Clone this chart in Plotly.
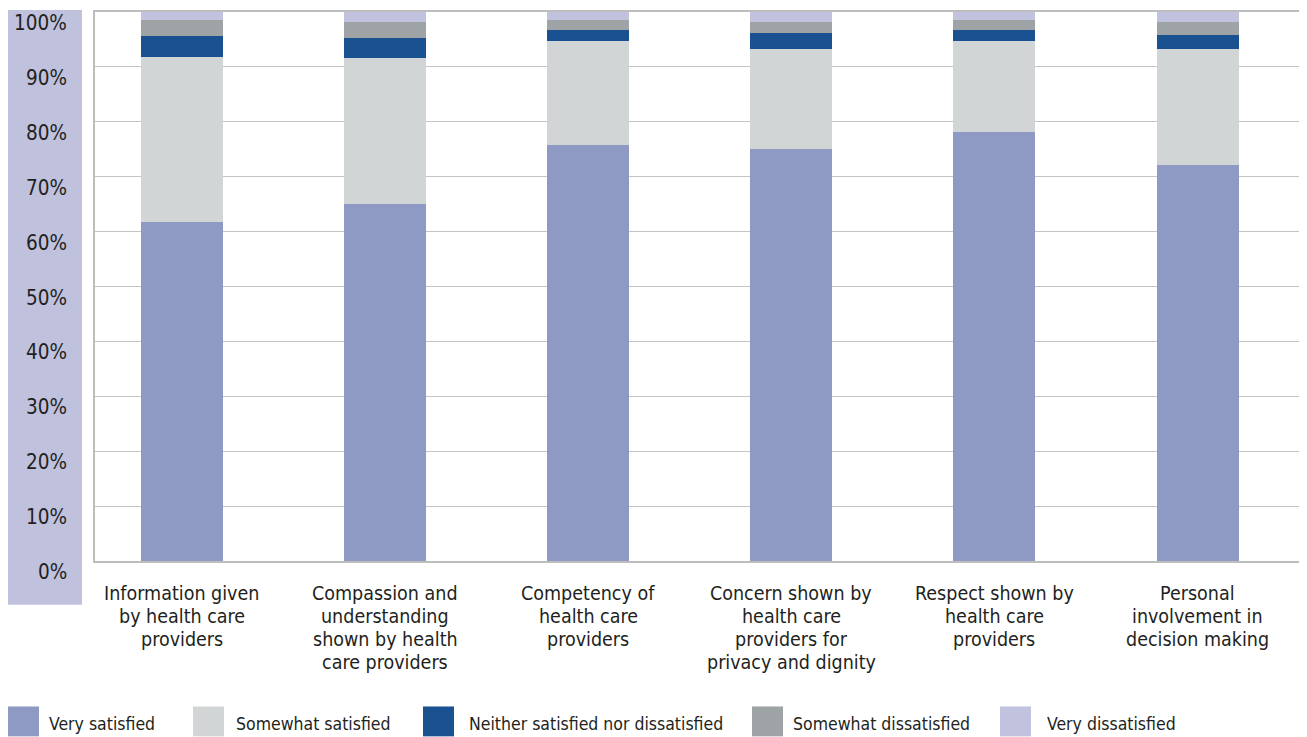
import plotly.graph_objects as go

categories = [
    "Information given<br>by health care<br>providers",
    "Compassion and<br>understanding<br>shown by health<br>care providers",
    "Competency of<br>health care<br>providers",
    "Concern shown by<br>health care<br>providers for<br>privacy and dignity",
    "Respect shown by<br>health care<br>providers",
    "Personal<br>involvement in<br>decision making",
]
series_names = ["Very satisfied", "Somewhat satisfied", "Neither satisfied nor dissatisfied",
                "Somewhat dissatisfied", "Very dissatisfied"]
very_satisfied = [61.7, 65.0, 75.7, 75.1, 78.2, 72.2]
somewhat_satisfied = [30.1, 26.7, 19.0, 18.2, 16.5, 21.1]
neither = [3.8, 3.6, 2.0, 2.9, 2.0, 2.5]
somewhat_dissatisfied = [2.9, 2.9, 1.8, 2.0, 1.8, 2.4]
very_dissatisfied = [1.5, 1.8, 1.5, 1.8, 1.5, 1.8]
series_values = [very_satisfied, somewhat_satisfied, neither, somewhat_dissatisfied, very_dissatisfied]
colors = ["#8e9ac4", "#d1d5d6", "#1a5190", "#9ea3a6", "#c0c2de"]
y_ticks = [0, 10, 20, 30, 40, 50, 60, 70, 80, 90, 100]

FONT = "DejaVu Sans Condensed, Liberation Sans Narrow, sans-serif"
TXT = "#231f20"
W, H = 1307, 737
OFF = 8  # page body margin offset
# plot area in reference (window) pixels: x 95..1304, y 10..561
L = 95 - OFF
T = 10 - OFF
R = W - (1304 - OFF)
B = H - (561 - OFF)
PW, PH = W - L - R, H - T - B

def px_x(px):
    return (px - OFF - L) / PW

def px_y(py):
    return (H - B - (py - OFF)) / PH

x_idx = list(range(len(categories)))
fig = go.Figure()
for name, vals, col in zip(series_names, series_values, colors):
    fig.add_trace(go.Bar(x=x_idx, y=vals, name=name, marker=dict(color=col, line=dict(width=0)),
                         width=0.404, showlegend=False))

annotations = []
for v in y_ticks:
    annotations.append(dict(x=px_x(69), xref="paper", y=v, yref="y", text=f"{v}%", showarrow=False,
                            xanchor="right", yanchor="middle", yshift=-11,
                            font=dict(family=FONT, size=20.5, color=TXT)))
for i, cat in enumerate(categories):
    for j, line in enumerate(cat.split("<br>")):
        annotations.append(dict(x=i, xref="x", y=px_y(594 + 23 * j), yref="paper", text=line,
                                showarrow=False, xanchor="center", yanchor="middle",
                                font=dict(family=FONT, size=19.5, color=TXT)))

shapes = [dict(type="rect", xref="paper", yref="paper", x0=px_x(8), x1=px_x(82),
               y0=px_y(605), y1=px_y(8), fillcolor="#bfc1dd", line=dict(width=0), layer="below")]
key_left = [8, 193, 423, 752, 1000]
text_left = [47, 234, 467, 791, 1045]
for name, col, kx, tx in zip(series_names, colors, key_left, text_left):
    shapes.append(dict(type="rect", xref="paper", yref="paper", x0=px_x(kx), x1=px_x(kx + 31),
                       y0=px_y(737), y1=px_y(707), fillcolor=col, line=dict(width=0)))
    annotations.append(dict(x=px_x(tx), xref="paper", y=px_y(725), yref="paper", text=name,
                            showarrow=False, xanchor="left", yanchor="middle",
                            font=dict(family=FONT, size=17.5, color=TXT)))

fig.update_layout(
    width=W, height=H, barmode="stack", bargap=0,
    margin=dict(l=L, r=R, t=T, b=B, pad=0),
    paper_bgcolor="white", plot_bgcolor="white",
    font=dict(family=FONT, color=TXT),
    xaxis=dict(range=[-0.428, 5.524], showticklabels=False, showgrid=False, zeroline=False,
               showline=True, linecolor="#bdbdbd", linewidth=1.5, mirror=True, ticks=""),
    yaxis=dict(range=[0, 100], tickvals=y_ticks, showticklabels=False, showgrid=True,
               gridcolor="#c4c4c4", gridwidth=1.3, zeroline=False,
               showline=True, linecolor="#bdbdbd", linewidth=1.5, mirror=True, ticks=""),
    shapes=shapes, annotations=annotations,
)
fig.write_html("out.html")
